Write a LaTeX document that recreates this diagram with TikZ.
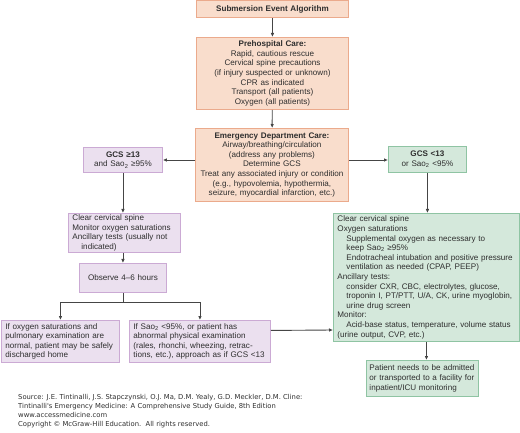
\documentclass[tikz,border=0pt]{standalone}
\usepackage{fontspec}
\setmainfont{Liberation Sans}
\newfontfamily\notefont{DejaVu Sans}
\usetikzlibrary{arrows.meta,positioning}
\definecolor{peachfill}{HTML}{F9DDCC}
\definecolor{peachdraw}{HTML}{EBAA8C}
\definecolor{lilacfill}{HTML}{EBE0EF}
\definecolor{lilacdraw}{HTML}{CBAAD4}
\definecolor{mintfill}{HTML}{D4E8DB}
\definecolor{mintdraw}{HTML}{8FC4A3}
\definecolor{inkgray}{HTML}{2E2E2E}
\definecolor{flowgray}{HTML}{454545}
\hyphenpenalty=10000
\tikzset{
  box/.style       = {draw, line width=0.9pt, inner xsep=4pt, inner ysep=1pt,
                      anchor=north west, text=inkgray,
                      font=\fontsize{8.1}{9.6}\selectfont},
  peachbox/.style  = {box, fill=peachfill, draw=peachdraw, align=center},
  lilacbox/.style  = {box, fill=lilacfill, draw=lilacdraw},
  mintbox/.style   = {box, fill=mintfill, draw=mintdraw},
  flow/.style      = {-{Latex[length=4pt,width=3.6pt]}, line width=0.9pt, draw=flowgray},
  flowline/.style  = {line width=0.9pt, draw=flowgray},
  srcnote/.style   = {anchor=north west, align=left, inner sep=0pt, text=inkgray,
                      font=\notefont\fontsize{6.8}{9}\selectfont},
}
\newcommand{\sao}{Sao\textsubscript{2}}
\newcommand{\ind}{\hspace*{9pt}}

\begin{document}
\begin{tikzpicture}[x=1pt,y=-1pt]
  \useasboundingbox (0,0) rectangle (520,433);

  % centre column
  \node[peachbox, text width=144pt, minimum height=17pt] (title) at (196,0.5)
    {\bfseries Submersion Event Algorithm};
  \node[peachbox, text width=144pt, minimum height=72pt] (prehosp) at (196,37)
    {{\bfseries Prehospital Care:}\\Rapid, cautious rescue\\Cervical spine precautions\\
     (if injury suspected or unknown)\\CPR as indicated\\Transport (all patients)\\
     Oxygen (all patients)};
  \node[peachbox, inner xsep=3pt, text width=147pt, minimum height=73pt] (emerg) at (195,128)
    {{\bfseries Emergency Department Care:}\\Airway/breathing/circulation\\
     (address any problems)\\Determine GCS\\Treat any associated injury or condition\\
     (e.g., hypovolemia, hypothermia,\\seizure, myocardial infarction, etc.)};

  % left branch
  \node[lilacbox, align=center, text width=71pt, minimum height=25pt] (gcshi) at (83,147)
    {{\bfseries GCS ≥13}\\and \sao{} ≥95\%};
  \node[lilacbox, align=left, text width=104pt, minimum height=39pt] (stable) at (68,213)
    {Clear cervical spine\\Monitor oxygen saturations\\Ancillary tests (usually not\\
     \ind indicated)};
  \node[lilacbox, align=center, text width=79pt, minimum height=29pt] (observe) at (79,263)
    {Observe 4--6 hours};
  \node[lilacbox, align=left, text width=110pt, minimum height=42pt] (home) at (1,320)
    {If oxygen saturations and\\pulmonary examination are\\normal, patient may be safely\\
     discharged home};
  \node[lilacbox, align=left, text width=133pt, minimum height=42pt] (worse) at (129,320)
    {If \sao{} <95\%, or patient has\\abnormal physical examination\\
     (rales, rhonchi, wheezing, retrac-\\tions, etc.), approach as if GCS <13};

  % right branch
  \node[mintbox, align=center, text width=70pt, minimum height=26pt] (gcslo) at (388,146)
    {{\bfseries GCS <13}\\or \sao{} <95\%};
  \node[mintbox, align=left, text width=178pt, minimum height=128pt] (unstable) at (333,213)
    {Clear cervical spine\\Oxygen saturations\\
     \ind Supplemental oxygen as necessary to\\\ind keep \sao{} ≥95\%\\
     \ind Endotracheal intubation and positive pressure\\
     \ind ventilation as needed (CPAP, PEEP)\\
     Ancillary tests:\\
     \ind consider CXR, CBC, electrolytes, glucose,\\
     \ind troponin I, PT/PTT, U/A, CK, urine myoglobin,\\
     \ind urine drug screen\\
     Monitor:\\
     \ind Acid-base status, temperature, volume status\\
     (urine output, CVP, etc.)};
  \node[mintbox, align=left, inner xsep=3pt, text width=106pt, minimum height=36pt] (admit) at (366,360)
    {Patient needs to be admitted\\or transported to a facility for\\inpatient/ICU monitoring};

  \node[srcnote] (source) at (18,394)
    {Source: J.E. Tintinalli, J.S. Stapczynski, O.J. Ma, D.M. Yealy, G.D. Meckler, D.M. Cline:\\
     Tintinalli's Emergency Medicine: A Comprehensive Study Guide, 8th Edition\\
     www.accessmedicine.com\\
     Copyright © McGraw-Hill Education.\ \ All rights reserved.};

  % connectors
  \draw[flow] (title) -- (prehosp);
  \draw[flow] (prehosp) -- (emerg);
  \draw[flow] (emerg.west |- 0,160) -- (gcshi.east |- 0,160);
  \draw[flow] (emerg.east |- 0,160) -- (gcslo.west |- 0,160);
  \draw[flow] (gcshi.south) -- (gcshi.south |- stable.north);
  \draw[flow] (stable.south -| gcshi.south) -- (gcshi.south |- observe.north);
  \coordinate (split) at (observe.south |- 0,302);
  \draw[flowline] (observe.south) -- (split);
  \draw[flow] (split) -| (home.north);
  \draw[flow] (split) -| (worse.north);
  \draw[flow] ([yshift=11pt]worse.east) -- (unstable.west |- 0,330);
  \draw[flow] (gcslo.south) -- (gcslo.south |- unstable.north);
  \draw[flow] (unstable.south) -- (unstable.south |- admit.north);
\end{tikzpicture}
\end{document}
